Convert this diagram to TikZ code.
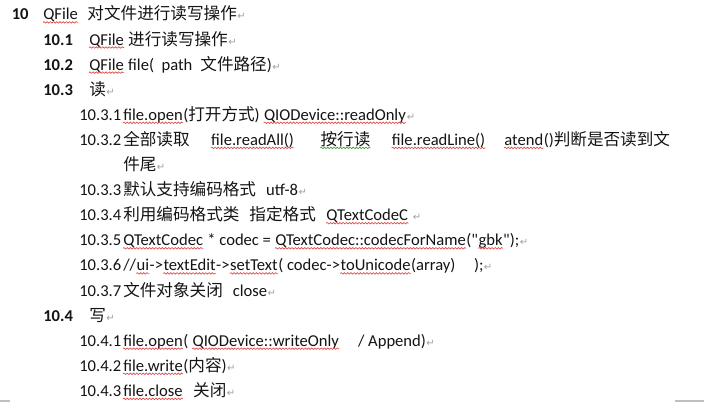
\documentclass[tikz,border=0pt]{standalone}
\usepackage{fontspec}
\usetikzlibrary{positioning,decorations.pathmorphing}
\setmainfont{Carlito}[Ligatures=TeXOff]
\newfontfamily\zhfont{Noto Sans CJK SC}
\newfontfamily\symfont{DejaVu Sans}
\definecolor{ink}{HTML}{141414}
\definecolor{squigred}{HTML}{E04848}
\definecolor{squiggreen}{HTML}{3C9C3C}
\definecolor{pmgray}{HTML}{A0A0A0}
\newdimen\px \px=0.75pt
\newcommand\zh[1]{{\zhfont #1}}
\newcommand\gap[1]{\hspace*{#1\px}}
\newcommand\pmark{\hspace*{0.5\px}{\symfont\fontsize{7.5}{7.5}\selectfont\color{pmgray}↵}}
\begin{document}
\begin{tikzpicture}[x=0.75pt, y=-0.75pt,
	line/.style={anchor=base west, inner sep=0pt, text=ink, font=\fontsize{12.45}{15}\selectfont},
	num/.style={line, font=\fontsize{12.45}{15}\selectfont\bfseries},
	squig/.style={squigred, line width=0.5pt, decorate, decoration={snake, amplitude=0.55pt, segment length=2.4pt}},
	squigg/.style={squig, squiggreen}]
	\fill[white] (0, 0) rectangle (726, 402);
	\useasboundingbox (0, 0) rectangle (726, 402);
	\node[num] (n10) at (11.5, 20) {10};
	\node[line] (t10a) at (43, 20) {QFile};
	\node[line, base right=6.75pt of t10a] (t10b) {\zh{对文件进行读写操作}\pmark};
	\node[num] (n101) at (43, 45.1) {10.1};
	\node[line] (t101a) at (89, 45.1) {QFile};
	\node[line, base right=2.8pt of t101a] (t101b) {\zh{进行读写操作}\pmark};
	\node[num] (n102) at (43, 70.2) {10.2};
	\node[line] (t102a) at (89, 70.2) {QFile};
	\node[line, base right=2.8pt of t102a] (t102b) {file(~~path\gap{8}\zh{文件路径})\pmark};
	\node[num] (n103) at (43, 95.3) {10.3};
	\node[line] (t103) at (89, 95.3) {\zh{读}\pmark};
	\node[line] (n1031) at (79, 120.4) {10.3.1};
	\node[line] (t1031a) at (123, 120.4) {file.open};
	\node[line, base right=0pt of t1031a] (t1031b) {(\zh{打开方式})};
	\node[line, base right=2.8pt of t1031b] (t1031c) {QIODevice::readOnly};
	\node[line, base right=0pt of t1031c] (t1031d) {\pmark};
	\node[line] (n1032) at (79, 145.5) {10.3.2};
	\node[line] (t1032a) at (123, 145.5) {\zh{全部读取}};
	\node[line, base right=15.75pt of t1032a] (t1032b) {file.readAll()};
	\node[line, base right=19.5pt of t1032b] (t1032c) {\zh{按行读}};
	\node[line, base right=15.75pt of t1032c] (t1032d) {file.readLine()};
	\node[line, base right=13.9pt of t1032d] (t1032e) {atend};
	\node[line, base right=0pt of t1032e] (t1032f) {()\zh{判断是否读到文}};
	\node[line] (t1032g) at (123, 170.6) {\zh{件尾}\pmark};
	\node[line] (n1033) at (79, 195.7) {10.3.3};
	\node[line] (t1033) at (123, 195.7) {\zh{默认支持编码格式}\gap{10}utf-8\pmark};
	\node[line] (n1034) at (79, 220.8) {10.3.4};
	\node[line] (t1034a) at (123, 220.8) {\zh{利用编码格式类}\gap{10}\zh{指定格式}};
	\node[line, base right=7.5pt of t1034a] (t1034b) {QTextCodeC};
	\node[line, base right=2.8pt of t1034b] (t1034c) {\pmark};
	\node[line] (n1035) at (79, 245.9) {10.3.5};
	\node[line] (t1035a) at (123, 245.9) {QTextCodec};
	\node[line, base right=2.8pt of t1035a] (t1035b) {* codec =};
	\node[line, base right=2.8pt of t1035b] (t1035c) {QTextCodec::codecForName};
	\node[line, base right=0pt of t1035c] (t1035d) {("};
	\node[line, base right=0pt of t1035d] (t1035e) {gbk};
	\node[line, base right=0pt of t1035e] (t1035f) {");\pmark};
	\node[line] (n1036) at (79, 271) {10.3.6};
	\node[line] (t1036a) at (123, 271) {//};
	\node[line, base right=0pt of t1036a] (t1036b) {ui};
	\node[line, base right=0pt of t1036b] (t1036c) {->};
	\node[line, base right=0pt of t1036c] (t1036d) {textEdit};
	\node[line, base right=0pt of t1036d] (t1036e) {->};
	\node[line, base right=0pt of t1036e] (t1036f) {setText};
	\node[line, base right=0pt of t1036f] (t1036g) {( codec->};
	\node[line, base right=0pt of t1036g] (t1036h) {toUnicode};
	\node[line, base right=0pt of t1036h] (t1036i) {(array)\gap{18.5});\pmark};
	\node[line] (n1037) at (79, 296.1) {10.3.7};
	\node[line] (t1037) at (123, 296.1) {\zh{文件对象关闭}\gap{10}close\pmark};
	\node[num] (n104) at (43, 321.2) {10.4};
	\node[line] (t104) at (89, 321.2) {\zh{写}\pmark};
	\node[line] (n1041) at (79, 346.3) {10.4.1};
	\node[line] (t1041a) at (123, 346.3) {file.open};
	\node[line, base right=0pt of t1041a] (t1041b) {(};
	\node[line, base right=2.8pt of t1041b] (t1041c) {QIODevice::writeOnly};
	\node[line, base right=13.9pt of t1041c] (t1041d) {/ Append)\pmark};
	\node[line] (n1042) at (79, 371.4) {10.4.2};
	\node[line] (t1042a) at (123, 371.4) {file.write};
	\node[line, base right=0pt of t1042a] (t1042b) {(\zh{内容})\pmark};
	\node[line] (n1043) at (79, 396.5) {10.4.3};
	\node[line] (t1043a) at (123, 396.5) {file.close};
	\node[line, base right=7.5pt of t1043a] (t1043b) {\zh{关闭}\pmark};
	\foreach \w in {t10a, t101a, t102a, t1031a, t1031c, t1032b, t1032d, t1032e, t1034b, t1035a, t1035c, t1035e, t1036b, t1036d, t1036f, t1036h, t1041a, t1041c, t1042a, t1043a}
		\draw[squig] ([yshift=-1.8pt]\w.base west) -- ([yshift=-1.8pt]\w.base east);
	\draw[squigg] ([yshift=-1.8pt]t1032c.base west) -- ([yshift=-1.8pt]t1032c.base east);
	\fill[lightgray] (0, 400) rectangle (10, 402);
	\fill[lightgray] (675, 400.5) rectangle (704, 402);
\end{tikzpicture}
\end{document}
